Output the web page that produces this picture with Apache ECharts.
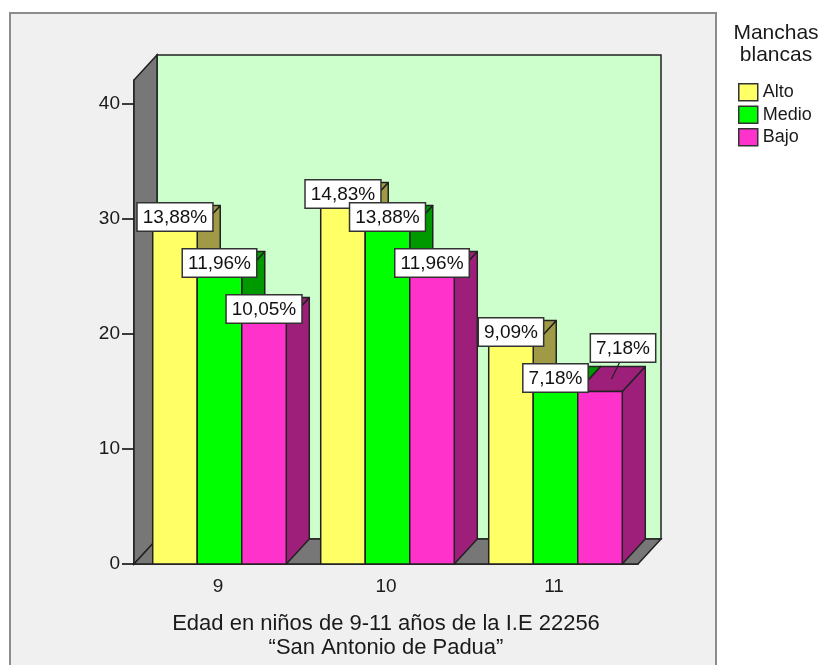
<!DOCTYPE html>
<html>
<head>
<meta charset="utf-8">
<script src="https://cdn.jsdelivr.net/npm/echarts@6/dist/echarts.min.js"></script>
<style>
  html, body { margin: 0; padding: 0; background: #ffffff; }
  #chart { width: 826px; height: 665px; }
</style>
</head>
<body>
<div id="chart"></div>
<script>
// Age groups on the category axis
const ages = ['9', '10', '11'];
// Levels of "Manchas blancas"
const levels = ['Alto', 'Medio', 'Bajo'];
// Counts per age group for each level
const alto  = [29, 31, 19];
const medio = [25, 29, 15];
const bajo  = [21, 25, 15];
// Percentages printed on the bars
const altoPct  = ['13,88%', '14,83%', '9,09%'];
const medioPct = ['11,96%', '13,88%', '7,18%'];
const bajoPct  = ['10,05%', '11,96%', '7,18%'];
// Value-axis tick labels
const yTicks = [0, 10, 20, 30, 40];

const FONT = '"Liberation Sans", Arial, Helvetica, sans-serif';
const DX = 23, DY = 25;           // depth of the 3D extrusion
const EDGE = '#222222';
const FRONT = ['#ffff66', '#00ff00', '#ff33cc'];
const SHADE = ['#a09a46', '#009a00', '#9e1f7a'];
// label lifted out of the way where two boxes would collide: "levelIndex-ageIndex"
const LIFTED = { '2-2': [23, -30] };

function wallRenderer(params, api) {
  const c = params.coordSys;
  const L = c.x, T = c.y, R = c.x + c.width, B = c.y + c.height;
  const st = (fill) => ({ fill: fill, stroke: EDGE, lineWidth: 1.5 });
  return {
    type: 'group',
    children: [
      { type: 'rect', shape: { x: L + DX, y: T - DY, width: c.width, height: c.height }, style: st('#ccffcc') },
      { type: 'polygon', shape: { points: [[L, T], [L + DX, T - DY], [L + DX, B - DY], [L, B]] }, style: st('#777777') },
      { type: 'polygon', shape: { points: [[L, B], [L + DX, B - DY], [R + DX, B - DY], [R, B]] }, style: st('#777777') }
    ]
  };
}

function barRenderer(s, pcts) {
  return function (params, api) {
    const i = api.value(0);
    const v = api.value(1);
    const base = api.coord([i, 0]);
    const top = api.coord([i, v]);
    const band = api.size([1, 0])[0];
    const w = band * 0.265;
    const x0 = base[0] - 1.5 * w + s * w + 1.5;
    const x1 = x0 + w;
    const yt = top[1], yb = base[1];
    const faceStyle = (fill) => ({ fill: fill, stroke: EDGE, lineWidth: 1.5, lineJoin: 'round' });
    const children = [
      { type: 'polygon', shape: { points: [[x1, yt], [x1 + DX, yt - DY], [x1 + DX, yb - DY], [x1, yb]] }, style: faceStyle(SHADE[s]) },
      { type: 'polygon', shape: { points: [[x0, yt], [x1, yt], [x1 + DX, yt - DY], [x0 + DX, yt - DY]] }, style: faceStyle(SHADE[s]) },
      { type: 'rect', shape: { x: x0, y: yt, width: w, height: yb - yt }, style: faceStyle(FRONT[s]) }
    ];
    const lift = LIFTED[s + '-' + i] || [0, 0];
    const lx = (x0 + x1) / 2 + lift[0];
    const ly = yt + lift[1];
    if (lift[0] || lift[1]) {
      children.push({
        type: 'line', z2: 90,
        shape: { x1: (x0 + x1) / 2 + DX / 2, y1: yt - DY / 2, x2: lx - 3, y2: ly },
        style: { stroke: EDGE, lineWidth: 1.2 }
      });
    }
    children.push({
      type: 'text', z2: 100,
      style: {
        text: pcts[i], x: lx, y: ly, align: 'center', verticalAlign: 'bottom',
        font: '19px ' + FONT, fill: '#111111', lineHeight: 21,
        backgroundColor: '#ffffff', borderColor: '#333333', borderWidth: 1.5,
        padding: [4, 5, 2, 5]
      }
    });
    return { type: 'group', children: children };
  };
}

const seriesValues = [alto, medio, bajo];
const seriesPcts = [altoPct, medioPct, bajoPct];

const series = [{
  type: 'custom', name: 'walls', silent: true,
  data: [[0, 0]],
  renderItem: wallRenderer
}];
levels.forEach((name, s) => {
  series.push({
    type: 'custom', name: name,
    itemStyle: { color: FRONT[s] },
    data: seriesValues[s].map((v, i) => [i, v]),
    encode: { x: 0, y: 1 },
    renderItem: barRenderer(s, seriesPcts[s])
  });
});

const chart = echarts.init(document.getElementById('chart'), null, { renderer: 'canvas' });
chart.setOption({
  backgroundColor: '#ffffff',
  animation: false,
  textStyle: { fontFamily: FONT },
  grid: { left: 134, top: 80, width: 504, height: 484 },
  graphic: [
    { type: 'rect', z: -10, shape: { x: 10, y: 13, width: 706, height: 680 },
      style: { fill: '#f0f0f0', stroke: '#8c8c8c', lineWidth: 2 } },
    { type: 'text', z: 10, style: {
        text: 'Edad en niños de 9-11 años de la I.E 22256\n“San Antonio de Padua”',
        x: 386, y: 612, align: 'center', verticalAlign: 'top',
        font: '22px ' + FONT, lineHeight: 24, fill: '#1a1a1a' } },
    { type: 'text', z: 10, style: {
        text: 'Manchas\nblancas', x: 776, y: 22, align: 'center', verticalAlign: 'top',
        font: '21px ' + FONT, lineHeight: 22, fill: '#1a1a1a' } }
  ],
  legend: {
    data: levels,
    orient: 'vertical',
    left: 738, top: 83,
    padding: 0,
    icon: 'rect',
    itemWidth: 19, itemHeight: 17, itemGap: 4,
    itemStyle: { borderColor: '#333333', borderWidth: 1.5 },
    textStyle: { fontSize: 18, color: '#1a1a1a', fontFamily: FONT },
    selectedMode: false
  },
  xAxis: {
    type: 'category',
    data: ages,
    axisLine: { lineStyle: { color: '#000000', width: 1.5 } },
    axisTick: { alignWithLabel: true, length: 10, lineStyle: { color: '#000000', width: 1.5 } },
    axisLabel: { fontSize: 19, color: '#1a1a1a', margin: 13 }
  },
  yAxis: {
    type: 'value',
    min: 0, max: 42.1, interval: 10,
    axisLine: { show: true, lineStyle: { color: '#000000', width: 1.5 } },
    axisTick: { show: true, length: 12, customValues: yTicks, lineStyle: { color: '#000000', width: 1.5 } },
    axisLabel: { customValues: yTicks, fontSize: 19, color: '#1a1a1a', margin: 14 },
    splitLine: { show: false }
  },
  series: series
});
</script>
</body>
</html>
